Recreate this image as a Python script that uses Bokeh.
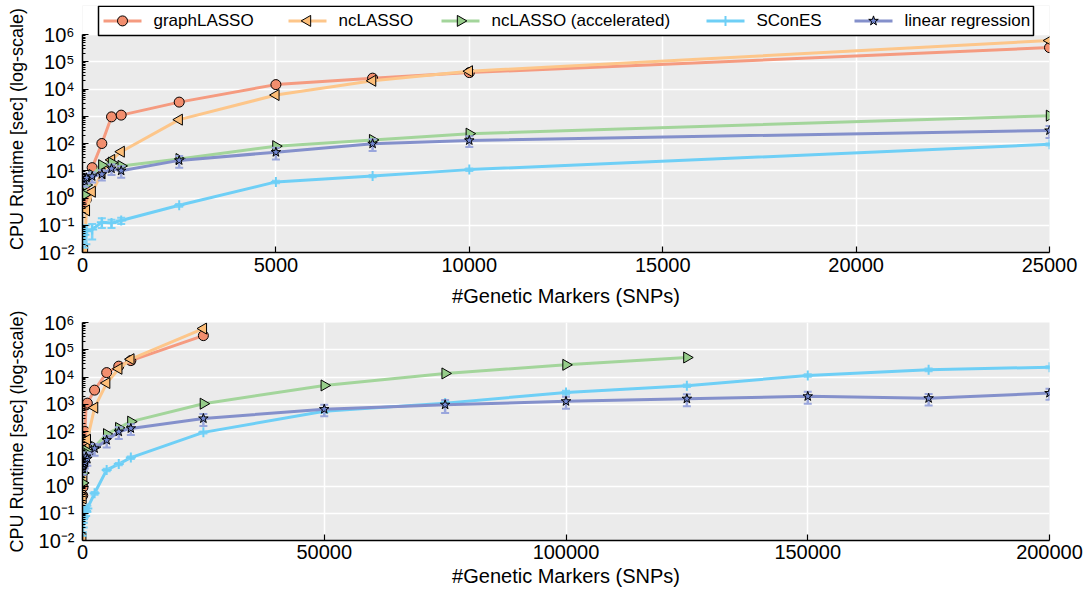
import math
from bokeh.plotting import figure
from bokeh.layouts import column
from bokeh.models import (ColumnDataSource, FixedTicker, CustomJSTickFormatter,
                          Range1d, LinearScale, PrintfTickFormatter)
from bokeh.core.properties import value
from bokeh.embed import file_html
from bokeh.resources import INLINE

# ---- measurements: CPU runtime [sec] vs number of SNPs ----
snps = [50, 100, 250, 500, 750, 1000, 2500, 5000, 7500, 10000, 25000,
        50000, 75000, 100000, 125000, 150000, 175000, 200000]

graphlasso = [0.45, 0.9, 13, 100, 950, 1100, 3300, 14500, 25000, 40000, 330000]
nclasso = [0.012, 0.35, 1.7, 8, 25, 50, 750, 6000, 20000, 45000, 600000]
nclasso_acc = [1.3, 3, 7, 16, 20, 15, 27, 80, 135, 230, 1050,
               4900, 13500, 28000, 52000]
scones = [0.045, 0.06, 0.07, 0.13, 0.12, 0.15, 0.54, 3.9, 6.4, 11, 93,
          550, 1100, 2700, 4800, 11400, 18300, 23000]
scones_std = [0.03, 0.04, 0.04, 0.05, 0.04, 0.04, 0.06, 0.4, 0.6, 1.2, 8,
              60, 120, 400, 500, 1200, 2000, 2000]
linreg = [4.4, 5.5, 6.2, 7.4, 12, 10, 24, 48, 98, 130, 300,
          660, 960, 1280, 1590, 1950, 1650, 2570]
linreg_std = [1.8, 2.2, 2.5, 3, 5, 4.5, 11, 22, 45, 55, 140,
              300, 480, 600, 750, 900, 750, 1100]

y_ticks = [1e-2, 1e-1, 1e0, 1e1, 1e2, 1e3, 1e4, 1e5, 1e6]
top_x_ticks = [0, 5000, 10000, 15000, 20000, 25000]
bottom_x_ticks = [0, 50000, 100000, 150000, 200000]

FONT = "Liberation Sans"
BG = "#EBEBEB"

FRAME_W = 967          # plotting area width in px
AXES_H = 218           # px covered by the 1e-2 .. 1e6 decades
LEGEND_H = 29          # strip above the axes reserved for the legend

styles = {
    "graphLASSO": dict(line="#F59B80", fill="#F28E6E", marker="circle", angle=0.0, size=10),
    "ncLASSO": dict(line="#FDC68A", fill="#FDBE78", marker="triangle", angle=math.pi / 2, size=11),
    "ncLASSO (accelerated)": dict(line="#A3D59B", fill="#96CD8A", marker="triangle", angle=-math.pi / 2, size=11),
    "SConES": dict(line="#6ECFF6", fill="#6ECFF6", marker="cross", angle=0.0, size=10),
    "linear regression": dict(line="#8490CB", fill="#7388D2", marker="star", angle=0.0, size=10),
}

series = [
    ("graphLASSO", snps[:len(graphlasso)], graphlasso, None),
    ("ncLASSO", snps[:len(nclasso)], nclasso, None),
    ("ncLASSO (accelerated)", snps[:len(nclasso_acc)], nclasso_acc, None),
    ("SConES", snps, scones, scones_std),
    ("linear regression", snps, linreg, linreg_std),
]

# left edge of each legend entry, in px from the left of the plotting area
legend_x = [21, 206, 359, 624, 772]

sup_js = """
const sup = {"-":"\u207b","0":"\u2070","1":"\u00b9","2":"\u00b2","3":"\u00b3",
             "4":"\u2074","5":"\u2075","6":"\u2076","7":"\u2077","8":"\u2078","9":"\u2079"};
const e = Math.round(Math.log10(tick));
return "10" + String(e).split("").map(c => sup[c]).join("");
"""

minor = []
for k in range(-2, 6):
    for m in range(2, 10):
        minor.append(m * 10.0 ** k)


def draw_marker(p, src, st, **kw):
    if st["marker"] == "cross":
        return p.scatter("x", "y", source=src, marker="cross", size=st["size"],
                         line_color=st["line"], line_width=2, **kw)
    return p.scatter("x", "y", source=src, marker=st["marker"], size=st["size"],
                     angle=st["angle"], fill_color=st["fill"],
                     line_color="black", line_width=1, **kw)


def make_fig(xmax, xticks, top_border, s1, s2, legend=False):
    extra = LEGEND_H if legend else 0
    frame_h = AXES_H + extra
    y_top = 10 ** (-2 + 8 * frame_h / AXES_H)
    p = figure(frame_width=FRAME_W, frame_height=frame_h, y_axis_type="log",
               x_range=Range1d(0, xmax), y_range=Range1d(1e-2, y_top),
               output_backend="svg", toolbar_location=None,
               min_border_left=82, min_border_right=39,
               min_border_top=top_border, min_border_bottom=0)
    p.background_fill_color = BG
    p.border_fill_color = "white"
    p.outline_line_color = None

    p.xgrid.grid_line_color = "white"
    p.ygrid.grid_line_color = "white"
    p.xgrid.grid_line_width = 1.5
    p.ygrid.grid_line_width = 1.5

    p.xaxis.ticker = FixedTicker(ticks=xticks)
    p.xaxis.formatter = PrintfTickFormatter(format="%d")
    p.yaxis.ticker = FixedTicker(ticks=y_ticks, minor_ticks=minor)
    p.yaxis.formatter = CustomJSTickFormatter(code=sup_js)
    p.yaxis.bounds = (1e-2, 1e6)

    for ax in (p.xaxis[0], p.yaxis[0]):
        ax.axis_line_color = "black"
        ax.axis_line_width = 1.5
        ax.major_tick_line_color = "black"
        ax.major_tick_line_width = 1.2
        ax.major_tick_in = 6
        ax.major_tick_out = 0
        ax.minor_tick_in = 3
        ax.minor_tick_out = 0
        ax.minor_tick_line_color = "black"
        ax.major_label_text_font = FONT
        ax.major_label_text_font_size = "20px"
        ax.major_label_text_color = "black"
        ax.axis_label_text_font = FONT
        ax.axis_label_text_font_style = "normal"
        ax.axis_label_text_color = "black"
    p.xaxis.minor_tick_line_color = None
    p.xaxis.axis_label_text_font_size = "20px"
    p.yaxis.axis_label_text_font_size = "18px"
    p.xaxis.major_label_standoff = s1
    p.xaxis.axis_label_standoff = s2
    p.yaxis.major_label_standoff = 8
    p.yaxis.axis_label_standoff = 9
    p.xaxis.axis_label = "#Genetic Markers (SNPs)"
    p.yaxis.axis_label = "CPU Runtime [sec] (log-scale)"

    for name, xs, ys, std in series:
        st = styles[name]
        src = ColumnDataSource(dict(x=xs, y=ys))
        p.line("x", "y", source=src, line_color=st["line"], line_width=3)
        if std is not None:
            lo = [max(v - e, 1e-3) for v, e in zip(ys, std)]
            hi = [v + e for v, e in zip(ys, std)]
            ecol = "#9AA6DC" if name == "linear regression" else "#7DD3F7"
            esrc = ColumnDataSource(dict(x=xs, lo=lo, hi=hi))
            p.segment("x", "lo", "x", "hi", source=esrc, line_color=ecol, line_width=2.5)
            p.scatter("x", "lo", source=esrc, marker="dash", size=8, line_color=ecol, line_width=2)
            p.scatter("x", "hi", source=esrc, marker="dash", size=8, line_color=ecol, line_width=2)
        draw_marker(p, src, st)

    if legend:
        # white strip above the axes, then a boxed legend drawn in px units
        p.quad(left=0, right=xmax, bottom=1e6, top=y_top,
               fill_color="white", line_color=None)
        p.extra_x_ranges = {"px": Range1d(0, FRAME_W)}
        p.extra_y_ranges = {"px": Range1d(0, frame_h)}
        p.extra_x_scales = {"px": LinearScale()}
        p.extra_y_scales = {"px": LinearScale()}
        px = dict(x_range_name="px", y_range_name="px")
        box_left, box_right = 16, 951
        box_bottom, box_top = frame_h - 30, frame_h - 0.8
        p.quad(left=box_left, right=box_right, bottom=box_bottom, top=box_top,
               fill_color="white", line_color="black", line_width=1.5, **px)
        yc = (box_bottom + box_top) / 2
        for (name, _, _, _), x0 in zip(series, legend_x):
            st = styles[name]
            p.segment(x0=x0, y0=yc, x1=x0 + 38, y1=yc, line_color=st["line"],
                      line_width=3, **px)
            draw_marker(p, ColumnDataSource(dict(x=[x0 + 19], y=[yc])), st, **px)
            p.text(x=[x0 + 50], y=[yc], text=[name], text_font=value(FONT),
                   text_font_size="17px", text_baseline="middle",
                   text_color="black", **px)
    return p


p_top = make_fig(25000, top_x_ticks, 5, 5, 10, legend=True)
p_bottom = make_fig(200000, bottom_x_ticks, 13, 4, 3)

layout = column(p_top, p_bottom, spacing=0)
open("out.html", "w").write(file_html(layout, INLINE))
